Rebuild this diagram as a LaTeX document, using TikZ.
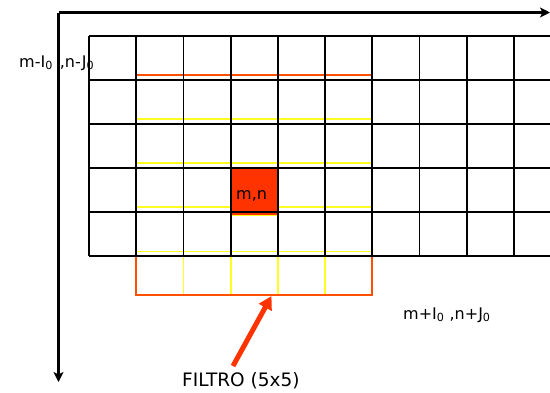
\documentclass[tikz,border=0pt]{standalone}
\usepackage{fontspec}
\setmainfont{DejaVu Sans}
\usetikzlibrary{arrows.meta}
\definecolor{fred}{HTML}{FF3300}
\definecolor{forange}{HTML}{FF5000}
\definecolor{fyellow}{HTML}{FFFF20}
\begin{document}
\begin{tikzpicture}[x=1pt,y=-1pt,
  gridline/.style={black, line width=1.8pt},
  fline/.style={fyellow, line width=1.8pt},
  fborder/.style={forange, line width=1.8pt},
  axis/.style={black, line width=3.6pt, -{Stealth[length=10pt,width=10pt,inset=2.5pt]}},
  pointer/.style={fred, line width=5pt, -{Triangle[length=13pt,width=14pt]}},
  lbl/.style={inner sep=0pt, anchor=base west, font=\fontsize{16}{18}\selectfont},
  big/.style={lbl, font=\fontsize{18.5}{21}\selectfont}]
\useasboundingbox (0,0) rectangle (550,392);
\begin{scope}
\clip (0,0) rectangle (550,392);
% filter 5x5 (columns 1..6 of the image grid)
\foreach \y in {119,163,207,251.5} \draw[fline] ({89+47.2},\y) -- ({89+47.2*6},\y);
\foreach \i in {2,...,5} \draw[fline] ({89+47.2*\i},75) -- ({89+47.2*\i},295);
\draw[fborder] ({89+47.2},75) rectangle ({89+47.2*6},295);
% centre cell
\fill[fred] ({89+47.2*3},168) rectangle ({89+47.2*4},215);
\draw[fline] ({89+47.2*3},215.5) -- ({89+47.2*4},215.5);
% image grid
\foreach \i in {0,...,10} \draw[gridline] ({89+47.2*\i},36) -- ({89+47.2*\i},256);
\foreach \j in {0,...,5} \draw[gridline] (89,{36+44*\j}) -- (560,{36+44*\j});
\end{scope}
% labels
\node[lbl] (tl) at (19,67) {m-I\textsubscript{0}\hspace{7pt},n-J\textsubscript{0}};
\node[lbl] (br) at (403,319) {m+I\textsubscript{0} ,n+J\textsubscript{0}};
\node[lbl] (mn) at (236,199) {m,n};
\node[big] (filt) at (182,386) {FILTRO (5x5)};
% axes
\coordinate (origin) at (58.5,12.5);
\coordinate (xend) at (550,12.5);
\coordinate (yend) at (58.5,382);
\draw[axis] (origin) -- (xend);
\draw[axis] (origin) -- (yend);
% pointer to filter
\coordinate (ptail) at (233,366);
\coordinate (fbot) at (271.5,296);
\draw[pointer] (ptail) -- (fbot);
\end{tikzpicture}
\end{document}
